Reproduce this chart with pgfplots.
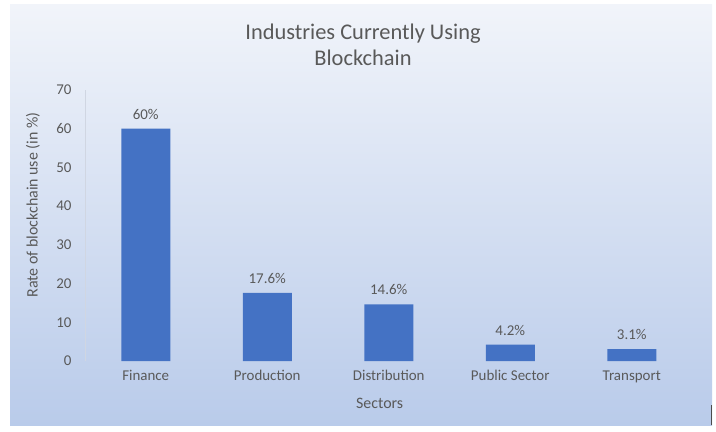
\documentclass[border=0pt]{standalone}
\usepackage{fontspec}
\setmainfont{Carlito}
\usepackage{pgfplots}
\pgfplotsset{compat=1.18}
\definecolor{txt}{HTML}{595959}
\definecolor{barc}{HTML}{4472C4}
\definecolor{bgtop}{HTML}{F1F4FA}
\definecolor{bgbot}{HTML}{B9CBEA}
\definecolor{axc}{HTML}{D0D6E2}
\begin{document}
\begin{tikzpicture}[x=1bp,y=1bp]
\useasboundingbox (0,0) rectangle (716,431);
\fill[white] (0,0) rectangle (716,431);
\shade[top color=bgtop, bottom color=bgbot] (10,6) rectangle (712,426);
\draw[black!70, line width=1.2bp] (711.5,6) -- (711.5,26);
\node[text=txt, align=center, font=\fontsize{22.5}{26}\selectfont] at (363,386) {Industries Currently Using\\Blockchain};
\node[text=txt, rotate=90, font=\fontsize{16}{19}\selectfont] at (33,226) {Rate of blockchain use (in \%)};
\begin{axis}[
  at={(85bp,70bp)}, anchor=south west,
  scale only axis, width=607.5bp, height=271bp,
  xmin=-0.5, xmax=4.5, ymin=0, ymax=70,
  ytick={0,10,...,70},
  xtick={0,1,2,3,4},
  xticklabels={Finance,Production,Distribution,Public Sector,Transport},
  major tick length=0pt,
  axis lines=left,
  x axis line style={draw=none},
  y axis line style={draw=axc, line width=0.8bp, -},
  /pgf/number format/assume math mode=true,
  tick label style={text=txt, font=\fontsize{15}{18}\selectfont},
  yticklabel style={xshift=-10bp},
  xticklabel style={yshift=-6bp},
  xlabel={Sectors},
  label style={text=txt, font=\fontsize{16}{19}\selectfont},
  xlabel style={at={(axis description cs:0.485,0)}, yshift=-34bp, anchor=north},
  clip=false,
]
\addplot[ybar, bar width=49bp, fill=barc, draw=none,
  nodes near coords, point meta=explicit symbolic,
  every node near coord/.append style={text=txt, font=\fontsize{15}{18}\selectfont, yshift=6bp}]
  coordinates {(0,60) [60\%] (1,17.6) [17.6\%] (2,14.6) [14.6\%] (3,4.2) [4.2\%] (4,3.1) [3.1\%]};
\end{axis}
\end{tikzpicture}
\end{document}
